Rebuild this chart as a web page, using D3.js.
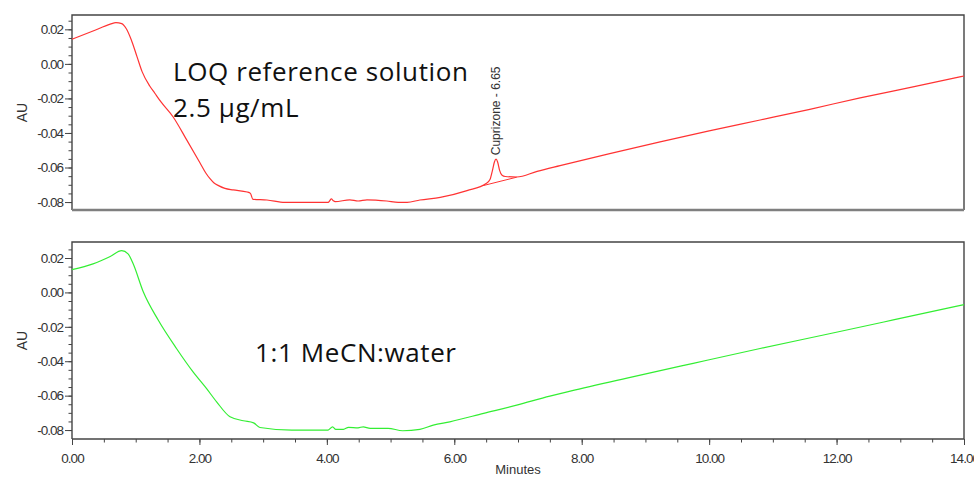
<!DOCTYPE html>
<html>
<head>
<meta charset="utf-8">
<script src="https://cdn.jsdelivr.net/npm/d3@7"></script>
<style>
  html, body { margin: 0; padding: 0; background: #fff; overflow: hidden; }
  svg { display: block; }
</style>
</head>
<body>
<svg id="chart"></svg>
<script>
// values (minutes, AU)
const redTime = [0, 0.33, 0.60, 0.69, 0.78, 0.85, 0.93, 1.02, 1.10, 1.22, 1.30, 1.40, 1.585, 1.80, 2.01, 2.10, 2.166, 2.23, 2.30, 2.40, 2.53, 2.75, 2.80, 2.84,
  3.06, 3.34, 4.02, 4.05, 4.07, 4.10, 4.13, 4.36, 4.49, 4.63, 4.94, 5.12, 5.26, 5.46, 5.78, 6.20, 6.50, 6.56, 6.60, 6.63,
  6.655, 6.68, 6.71, 6.75, 6.80, 6.98, 7.30, 7.66, 8.44, 9.23, 10.00, 10.80, 11.58, 12.37, 13.20, 14.00];
const redAU = [0.0143, 0.0190, 0.0230, 0.0239, 0.0233, 0.0205, 0.0140, 0.0042, -0.0045, -0.0128, -0.0170, -0.0222, -0.0306, -0.0440, -0.0574, -0.0632, -0.0665, -0.0690, -0.0705, -0.0721, -0.0730, -0.0742, -0.0750, -0.0784,
  -0.0788, -0.0802, -0.0802, -0.0790, -0.0781, -0.0792, -0.0798, -0.0787, -0.0794, -0.0787, -0.0794, -0.0802, -0.0802, -0.0788, -0.0773, -0.0734, -0.0693, -0.0670, -0.0615, -0.0568,
  -0.0552, -0.0568, -0.0615, -0.0645, -0.0652, -0.0655, -0.0622, -0.0589, -0.0520, -0.0452, -0.0388, -0.0325, -0.0263, -0.0197, -0.0133, -0.0070];

const greenTime = [0, 0.33, 0.60, 0.78, 0.88, 0.96, 1.12, 1.355, 1.64, 1.90, 2.11, 2.27, 2.48, 2.69, 2.85, 2.95, 3.45, 4.02, 4.09, 4.14,
  4.26, 4.34, 4.49, 4.57, 4.68, 4.96, 5.19, 5.46, 5.67, 5.93, 6.46, 6.98, 7.50, 7.82, 8.71, 9.75, 10.80, 11.85, 12.89, 14.00];
const greenAU = [0.0132, 0.0166, 0.0209, 0.0243, 0.0224, 0.0166, 0.0002, -0.0162, -0.0326, -0.0462, -0.0558, -0.0636, -0.0723, -0.0746, -0.0758, -0.0785, -0.0800, -0.0800, -0.0781, -0.0796,
  -0.0796, -0.0784, -0.0787, -0.0781, -0.0790, -0.0790, -0.0804, -0.0796, -0.0771, -0.0752, -0.0703, -0.0655, -0.0603, -0.0574, -0.0498, -0.0412, -0.0326, -0.0243, -0.0160, -0.0071];

// integrated peak in the LOQ run
const peakName = "Cuprizone";
const peakTime = 6.65;
const peakBaseTime = [6.45, 6.98];
const peakBaseAU = [-0.0705, -0.0656];

const xTicks = [0, 2, 4, 6, 8, 10, 12, 14];
const xMinorTicks = d3.range(0, 29).map(i => i * 0.5);
const yTicks = [-0.08, -0.06, -0.04, -0.02, 0.00, 0.02];
const yMinorTicks = d3.range(-16, 6).map(i => i * 0.005);

const width = 974, height = 477;
const marginLeft = 72, marginRight = 10;
const fmt = d => d.toFixed(2);

const svg = d3.select("#chart")
    .attr("width", width)
    .attr("height", height)
    .style("font-family", "'Liberation Sans', Arial, sans-serif");

const x = d3.scaleLinear()
    .domain([0, 14])
    .range([marginLeft, width - marginRight]);

function Panel(time, au, {
    top, bottom, domain, color, bottomStroke = "#444", xAxis = false
} = {}) {

  const y = d3.scaleLinear().domain(domain).range([bottom, top]);
  const g = svg.append("g");

  // minor y ticks
  g.append("g")
      .attr("transform", `translate(${marginLeft},0)`)
      .call(d3.axisLeft(y).tickValues(yMinorTicks).tickSize(3.5).tickFormat(""))
      .call(a => a.select(".domain").remove())
      .call(a => a.selectAll("line").attr("stroke", "#444"));

  // major y ticks
  g.append("g")
      .attr("transform", `translate(${marginLeft},0)`)
      .call(d3.axisLeft(y).tickValues(yTicks).tickSize(7).tickPadding(2).tickFormat(fmt))
      .call(a => a.select(".domain").remove())
      .call(a => a.selectAll("line").attr("stroke", "#444"))
      .call(a => a.selectAll("text")
          .attr("fill", "#333")
          .style("font-size", "13.5px")
          .style("letter-spacing", "-1px"));

  // y title
  svg.append("text")
      .attr("transform", `translate(27,${(top + bottom) / 2}) rotate(-90)`)
      .attr("text-anchor", "middle")
      .attr("fill", "#333")
      .style("font-size", "14px")
      .text("AU");

  if (xAxis) {
    g.append("g")
        .attr("transform", `translate(0,${bottom})`)
        .call(d3.axisBottom(x).tickValues(xMinorTicks).tickSize(3.5).tickFormat(""))
        .call(a => a.select(".domain").remove())
        .call(a => a.selectAll("line").attr("stroke", "#444"));
    g.append("g")
        .attr("transform", `translate(0,${bottom})`)
        .call(d3.axisBottom(x).tickValues(xTicks).tickSize(6).tickPadding(8).tickFormat(fmt))
        .call(a => a.select(".domain").remove())
        .call(a => a.selectAll("line").attr("stroke", "#444"))
        .call(a => a.selectAll("text")
            .attr("fill", "#333")
            .style("font-size", "13.5px")
            .style("letter-spacing", "-1px"));
  }

  // frame
  g.append("path")
      .attr("fill", "none")
      .attr("stroke", "#444")
      .attr("stroke-width", 1.4)
      .attr("d", `M${x(0)},${bottom}V${top}H${x(14)}V${bottom}`);
  g.append("line")
      .attr("x1", x(0)).attr("x2", x(14))
      .attr("y1", bottom).attr("y2", bottom)
      .attr("stroke", bottomStroke)
      .attr("stroke-width", bottomStroke === "#444" ? 1.4 : 2.4);

  // trace
  const data = d3.zip(time, au);
  g.append("path")
      .datum(data)
      .attr("fill", "none")
      .attr("stroke", color)
      .attr("stroke-width", 1.2)
      .attr("d", d3.line()
          .x(d => x(d[0]))
          .y(d => y(d[1]))
          .curve(d3.curveMonotoneX));

  return {g, y, data};
}

// 上图：LOQ 参考溶液
const topPanel = Panel(redTime, redAU, {
  top: 15, bottom: 210, domain: [-0.0846, 0.0283], color: "#ff3333", bottomStroke: "#7f7f7f"
});

// integration baseline under the peak
topPanel.g.append("path")
    .datum(d3.zip(peakBaseTime, peakBaseAU))
    .attr("fill", "none")
    .attr("stroke", "#ff3333")
    .attr("stroke-width", 1)
    .attr("d", d3.line().x(d => x(d[0])).y(d => topPanel.y(d[1])));

// peak label
const apex = d3.least(topPanel.data.filter(d => d[0] > 6.4 && d[0] < 6.9), d => -d[1]);
topPanel.g.append("text")
    .attr("transform", `translate(${x(peakTime) + 4},${topPanel.y(apex[1]) - 4}) rotate(-90)`)
    .attr("fill", "#333")
    .style("font-size", "12px")
    .text(`${peakName} - ${peakTime.toFixed(2)}`);

// 下图：空白溶剂
Panel(greenTime, greenAU, {
  top: 242, bottom: 439, domain: [-0.0852, 0.0293], color: "#33ee33", xAxis: true
});

svg.append("text")
    .attr("x", (x(0) + x(14)) / 2)
    .attr("y", 474)
    .attr("text-anchor", "middle")
    .attr("fill", "#333")
    .style("font-size", "13px")
    .text("Minutes");

// sample annotations
const note = svg.append("g")
    .attr("fill", "#111")
    .style("font-family", "'Open Sans', Lato, sans-serif")
    .style("font-size", "26px")
    .style("letter-spacing", "0.6px");
note.append("text").attr("x", 173).attr("y", 81).text("LOQ reference solution");
note.append("text").attr("x", 173).attr("y", 117).text("2.5 µg/mL");
note.append("text").attr("x", 255).attr("y", 362).text("1:1 MeCN:water");
</script>
</body>
</html>
